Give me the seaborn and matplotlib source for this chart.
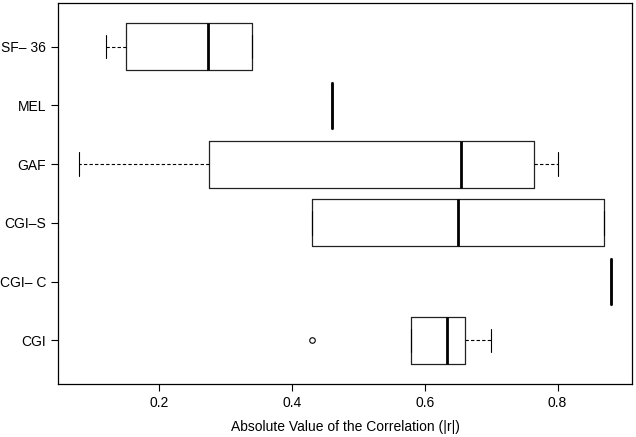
import pandas as pd
import matplotlib
matplotlib.use('Agg')
import matplotlib.pyplot as plt
import seaborn as sns

# instruments, top to bottom
instruments = ['SF– 36', 'MEL', 'GAF', 'CGI–S', 'CGI– C', 'CGI']

# absolute correlations per instrument
sf36 = [0.12, 0.15, 0.274, 0.34, 0.34]
mel = [0.46]
gaf = [0.08, 0.275, 0.655, 0.765, 0.80]
cgi_s = [0.43, 0.43, 0.65, 0.87, 0.87]
cgi_c = [0.88]
cgi = [0.43, 0.58, 0.634, 0.66, 0.70]

xticks = [0.2, 0.4, 0.6, 0.8]

groups = [sf36, mel, gaf, cgi_s, cgi_c, cgi]
rows = []
for name, vals in zip(instruments, groups):
    for v in vals:
        rows.append({'instrument': name, 'r': v})
df = pd.DataFrame(rows)

sns.set_style('white')
plt.rcParams['font.family'] = ['Liberation Sans', 'DejaVu Sans']
plt.rcParams['text.color'] = 'black'
plt.rcParams['axes.labelcolor'] = 'black'
plt.rcParams['xtick.color'] = 'black'
plt.rcParams['ytick.color'] = 'black'

fig = plt.figure(figsize=(6.36, 4.37), dpi=100)
ax = fig.add_axes([0.0912, 0.1213, 0.9025, 0.8718])

sns.boxplot(data=df, x='r', y='instrument', order=instruments, orient='h',
            width=0.8, fill=False, color='black', linewidth=0.8, whis=1.5,
            ax=ax,
            boxprops=dict(color='#222222', linewidth=0.9),
            medianprops=dict(color='black', linewidth=2.0),
            whiskerprops=dict(color='black', linewidth=0.8, linestyle=(0, (3, 2))),
            capprops=dict(color='black', linewidth=0.8),
            flierprops=dict(marker='o', markersize=4, markerfacecolor='none',
                            markeredgecolor='black', markeredgewidth=0.8))

ax.set_xlim(0.048, 0.912)
ax.set_ylim(5.74, -0.74)
ax.set_xticks(xticks)
ax.set_xticklabels([str(t) for t in xticks])
ax.set_xlabel('Absolute Value of the Correlation (|r|)', fontsize=10, labelpad=7)
ax.set_ylabel('')
ax.tick_params(axis='both', direction='out', length=5, width=0.8, labelsize=10,
               colors='black', bottom=True, left=True)
ax.tick_params(axis='x', pad=4)
for s in ax.spines.values():
    s.set_visible(True)
    s.set_color('black')
    s.set_linewidth(0.9)

plt.savefig('out.png', dpi=100)
